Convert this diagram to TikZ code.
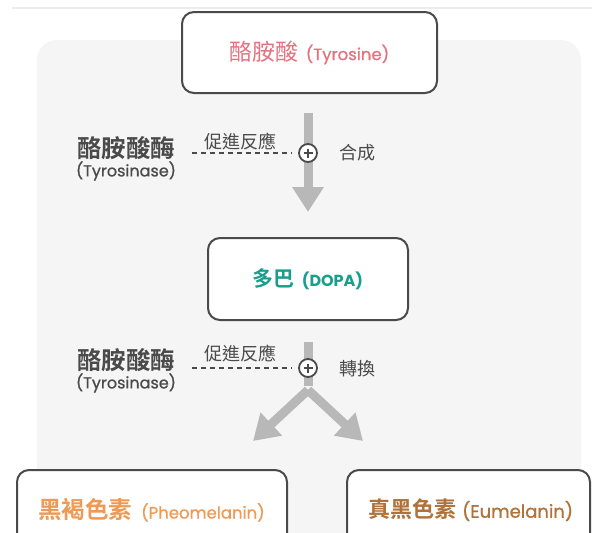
\documentclass[tikz,border=0pt]{standalone}
\usepackage{fontspec}
\setmainfont{Poppins}
\newfontfamily\popm{Poppins}[UprightFeatures={FakeBold=0.8}]
\newfontfamily\cjk{Noto Sans CJK TC}
\newfontfamily\cjkb{Noto Sans CJK TC Bold}
\usetikzlibrary{arrows.meta}
\definecolor{pinkc}{HTML}{E4737F}
\definecolor{tealc}{HTML}{16A08C}
\definecolor{orangec}{HTML}{EE9A55}
\definecolor{brownc}{HTML}{B07238}
\definecolor{darkc}{HTML}{4A4A4A}
\definecolor{boxc}{HTML}{4A4A4A}
\definecolor{arrowc}{HTML}{B8B8B8}
\definecolor{bgc}{HTML}{F5F5F5}
\definecolor{linec}{HTML}{ECECEC}
\tikzset{
  box/.style={draw=boxc, line width=2pt, rounded corners=12pt, fill=white, inner sep=0pt},
  grayarrow/.style={draw=arrowc, line width=9pt, -{Triangle[width=30pt,length=25pt]}},
  grayline/.style={draw=arrowc, line width=9pt},
  plusnode/.style={circle, draw=darkc, fill=white, line width=1.8pt, minimum size=18pt, inner sep=0pt,
    path picture={\draw[darkc, line width=1.5pt] (path picture bounding box.center) ++(-4.5pt,0pt) -- ++(9pt,0pt)
      (path picture bounding box.center) ++(0pt,-4.5pt) -- ++(0pt,9pt);}},
  dashline/.style={draw=darkc, line width=1.2pt, dash pattern=on 5pt off 4pt},
  lbl/.style={inner sep=0pt, text=darkc},
}
\begin{document}
\begin{tikzpicture}[x=1pt,y=-1pt]
\useasboundingbox (0,0) rectangle (592,533);
\clip (0,0) rectangle (592,533);
\fill[white] (0,0) rectangle (592,533);
\draw[linec, line width=1.5pt] (12,8) -- (592,8);
\fill[bgc, rounded corners=20pt] (37,40) rectangle (581,580);

% boxes
\node[box, minimum width=255pt, minimum height=81pt] (tyr) at (309.5,52.5)
  {\color{pinkc}{\cjk\fontsize{23}{23}\selectfont 酪胺酸}\hspace{7pt}{\popm\fontsize{16.5}{16.5}\selectfont (Tyrosine)}};
\node[box, minimum width=200pt, minimum height=82pt] (dopa) at (308,279)
  {\color{tealc}{\cjkb\fontsize{21}{21}\selectfont 多巴}\hspace{7pt}{\fontsize{16}{16}\selectfont\bfseries (DOPA)}};
\node[box, minimum width=270pt, minimum height=120pt] (pheo) at (152,530) {};
\node[box, minimum width=243pt, minimum height=120pt] (eu) at (468.5,530) {};
\node[lbl, anchor=west] (pheot) at (38,510)
  {\color{orangec}{\cjkb\fontsize{23.5}{23.5}\selectfont 黑褐色素}\hspace{9pt}{\popm\fontsize{16.5}{16.5}\selectfont (Pheomelanin)}};
\node[lbl, anchor=west] (eut) at (368,510)
  {\color{brownc}{\cjkb\fontsize{22}{22}\selectfont 真黑色素}\hspace{6pt}{\popm\fontsize{18}{18}\selectfont (Eumelanin)}};

% first step
\coordinate (a1s) at (308,113);
\coordinate (a1e) at (308,212);
\draw[grayarrow] (a1s) -- (a1e);
\node[plusnode] (p1) at (308,153) {};
\coordinate (d1) at (192,153);
\draw[dashline, shorten >=6pt] (d1) -- (p1.west);
\node[lbl] (r1) at (240,141) {\cjk\fontsize{18}{18}\selectfont 促進反應};
\node[lbl] (s1) at (357,153) {\cjk\fontsize{18}{18}\selectfont 合成};
\node[lbl] (e1) at (126,148) {\cjkb\fontsize{24.5}{24.5}\selectfont 酪胺酸酶};
\node[lbl] (e1b) at (126,171) {\popm\fontsize{16}{16}\selectfont (Tyrosinase)};

% second step
\coordinate (s2) at (308,342);
\coordinate (j2) at (308,386);
\coordinate (lt) at (253,441);
\coordinate (rt) at (363,441);
\draw[grayline] (s2) -- (j2);
\draw[grayarrow] ([yshift=-4pt]j2) -- (lt);
\draw[grayarrow] ([yshift=-4pt]j2) -- (rt);
\node[plusnode] (p2) at (308,368) {};
\coordinate (d2) at (192,368);
\draw[dashline, shorten >=6pt] (d2) -- (p2.west);
\node[lbl] (r2) at (240,353) {\cjk\fontsize{18}{18}\selectfont 促進反應};
\node[lbl] (s2t) at (357,369) {\cjk\fontsize{18}{18}\selectfont 轉換};
\node[lbl] (e2) at (126,360) {\cjkb\fontsize{24.5}{24.5}\selectfont 酪胺酸酶};
\node[lbl] (e2b) at (126,383) {\popm\fontsize{16}{16}\selectfont (Tyrosinase)};
\end{tikzpicture}
\end{document}
